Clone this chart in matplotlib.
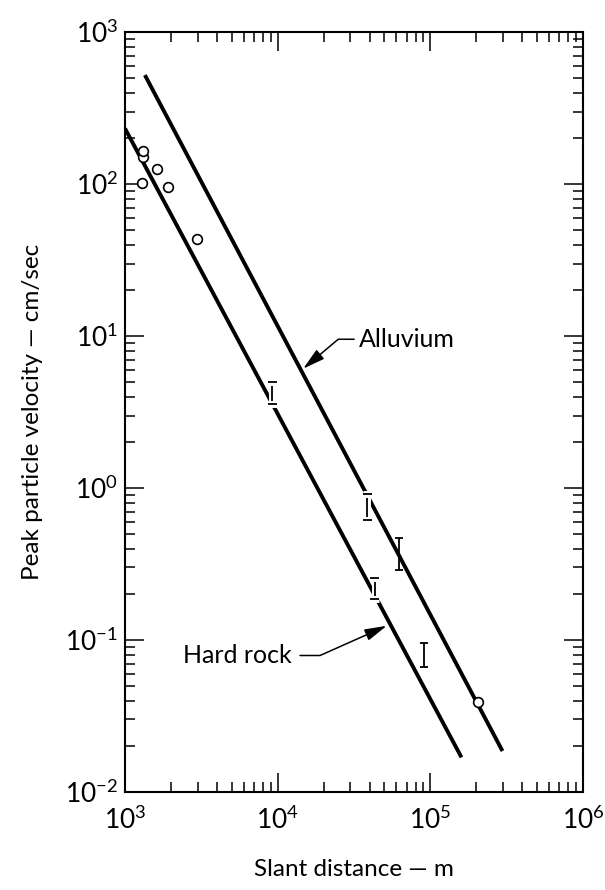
"""Peak particle velocity vs slant distance, hard rock and alluvium."""

import matplotlib
import matplotlib.pyplot as plt
import matplotlib.patheffects as pe
from matplotlib.ticker import LogLocator, NullFormatter

matplotlib.use("Agg")

plt.rcParams["font.family"] = ["Lato", "DejaVu Sans"]
plt.rcParams["mathtext.fontset"] = "custom"
plt.rcParams["mathtext.rm"] = "Lato"
plt.rcParams["mathtext.it"] = "Lato"
plt.rcParams["mathtext.bf"] = "Lato"

# measured points (open circles)
ROCK_DIST = [1298, 1306, 1318, 1629, 1904, 2950]
ROCK_VEL = [102, 150, 166, 125, 96, 43.7]
ALLU_DIST = [2.04e5]
ALLU_VEL = [0.039]

# ranges of observations (the "I" bars)
BAR_DIST = [9.2e3, 3.86e4, 6.2e4, 4.31e4, 9.1e4]
BAR_LOW = [3.57, 0.615, 0.289, 0.185, 0.0667]
BAR_HIGH = [4.96, 0.92, 0.467, 0.255, 0.095]
BAR_CUTS_LINE = [True, True, False, True, False]

# fitted lines, end points
ROCK_LINE_DIST = [1.0e3, 1.60e5]
ROCK_LINE_VEL = [232, 0.0169]
ALLU_LINE_DIST = [1.35e3, 2.97e5]
ALLU_LINE_VEL = [521, 0.0186]

fig = plt.figure(figsize=(6.05, 8.90), dpi=100)
ax = fig.add_axes([0.2066, 0.1101, 0.7570, 0.8539])
ax.set_xscale("log")
ax.set_yscale("log")
ax.set_xlim(1e3, 1e6)
ax.set_ylim(1e-2, 1e3)

ax.plot(ROCK_LINE_DIST, ROCK_LINE_VEL, color="black", lw=2.8,
        solid_capstyle="butt", zorder=3)
ax.plot(ALLU_LINE_DIST, ALLU_LINE_VEL, color="black", lw=2.8,
        solid_capstyle="butt", zorder=3)

halo = [pe.withStroke(linewidth=5, foreground="white")]
for x, lo, hi, cuts in zip(BAR_DIST, BAR_LOW, BAR_HIGH, BAR_CUTS_LINE):
    mid = (lo * hi) ** 0.5
    _, caps, bars = ax.errorbar([x], [mid], yerr=[[mid - lo], [hi - mid]],
                                fmt="none", ecolor="black", elinewidth=1.3,
                                capsize=3.2, capthick=1.3,
                                zorder=4 if cuts else 2)
    if cuts:
        for c in caps:
            c.set_path_effects(halo)
        for b in bars:
            b.set_path_effects(halo)

ax.plot(ROCK_DIST, ROCK_VEL, "o", ms=7, mfc="white", mec="black",
        mew=1.2, zorder=5, clip_on=False)
ax.plot(ALLU_DIST, ALLU_VEL, "o", ms=7, mfc="white", mec="black",
        mew=1.2, zorder=5)

arrow = "-|>,head_length=0.75,head_width=0.2"
ax.annotate("Alluvium", xy=(1.47e4, 6.1), xytext=(3.41e4, 8.5),
            fontsize=18, ha="left", va="baseline",
            arrowprops=dict(arrowstyle=arrow, color="black", lw=1.1,
                            connectionstyle="angle,angleA=0,angleB=40,rad=0",
                            relpos=(0, 0.5), shrinkA=1.5, shrinkB=0))
ax.annotate("Hard rock", xy=(5.18e4, 0.124), xytext=(1.236e4, 0.0706),
            fontsize=18, ha="right", va="baseline",
            arrowprops=dict(arrowstyle=arrow, color="black", lw=1.1,
                            connectionstyle="angle,angleA=0,angleB=24,rad=0",
                            relpos=(1, 0.5), shrinkA=4, shrinkB=0))

for axis in (ax.xaxis, ax.yaxis):
    axis.set_major_locator(LogLocator(base=10, numticks=20))
    axis.set_minor_locator(LogLocator(base=10, subs=range(2, 10), numticks=100))
    axis.set_minor_formatter(NullFormatter())

ax.tick_params(which="both", direction="in", top=True, right=True,
               width=1.1, labelsize=19)
ax.tick_params(which="major", length=13.5)
ax.tick_params(which="minor", length=7)
ax.tick_params(axis="x", which="major", pad=10)
ax.tick_params(axis="y", which="major", pad=5)
for s in ax.spines.values():
    s.set_linewidth(1.5)

ax.set_xlabel("Slant distance — m", fontsize=17.5)
ax.set_ylabel("Peak particle velocity — cm/sec", fontsize=17.5)
ax.xaxis.set_label_coords(0.5, -0.088)
ax.yaxis.set_label_coords(-0.179, 0.5)

fig.savefig("out.png", dpi=100)
plt.close(fig)
